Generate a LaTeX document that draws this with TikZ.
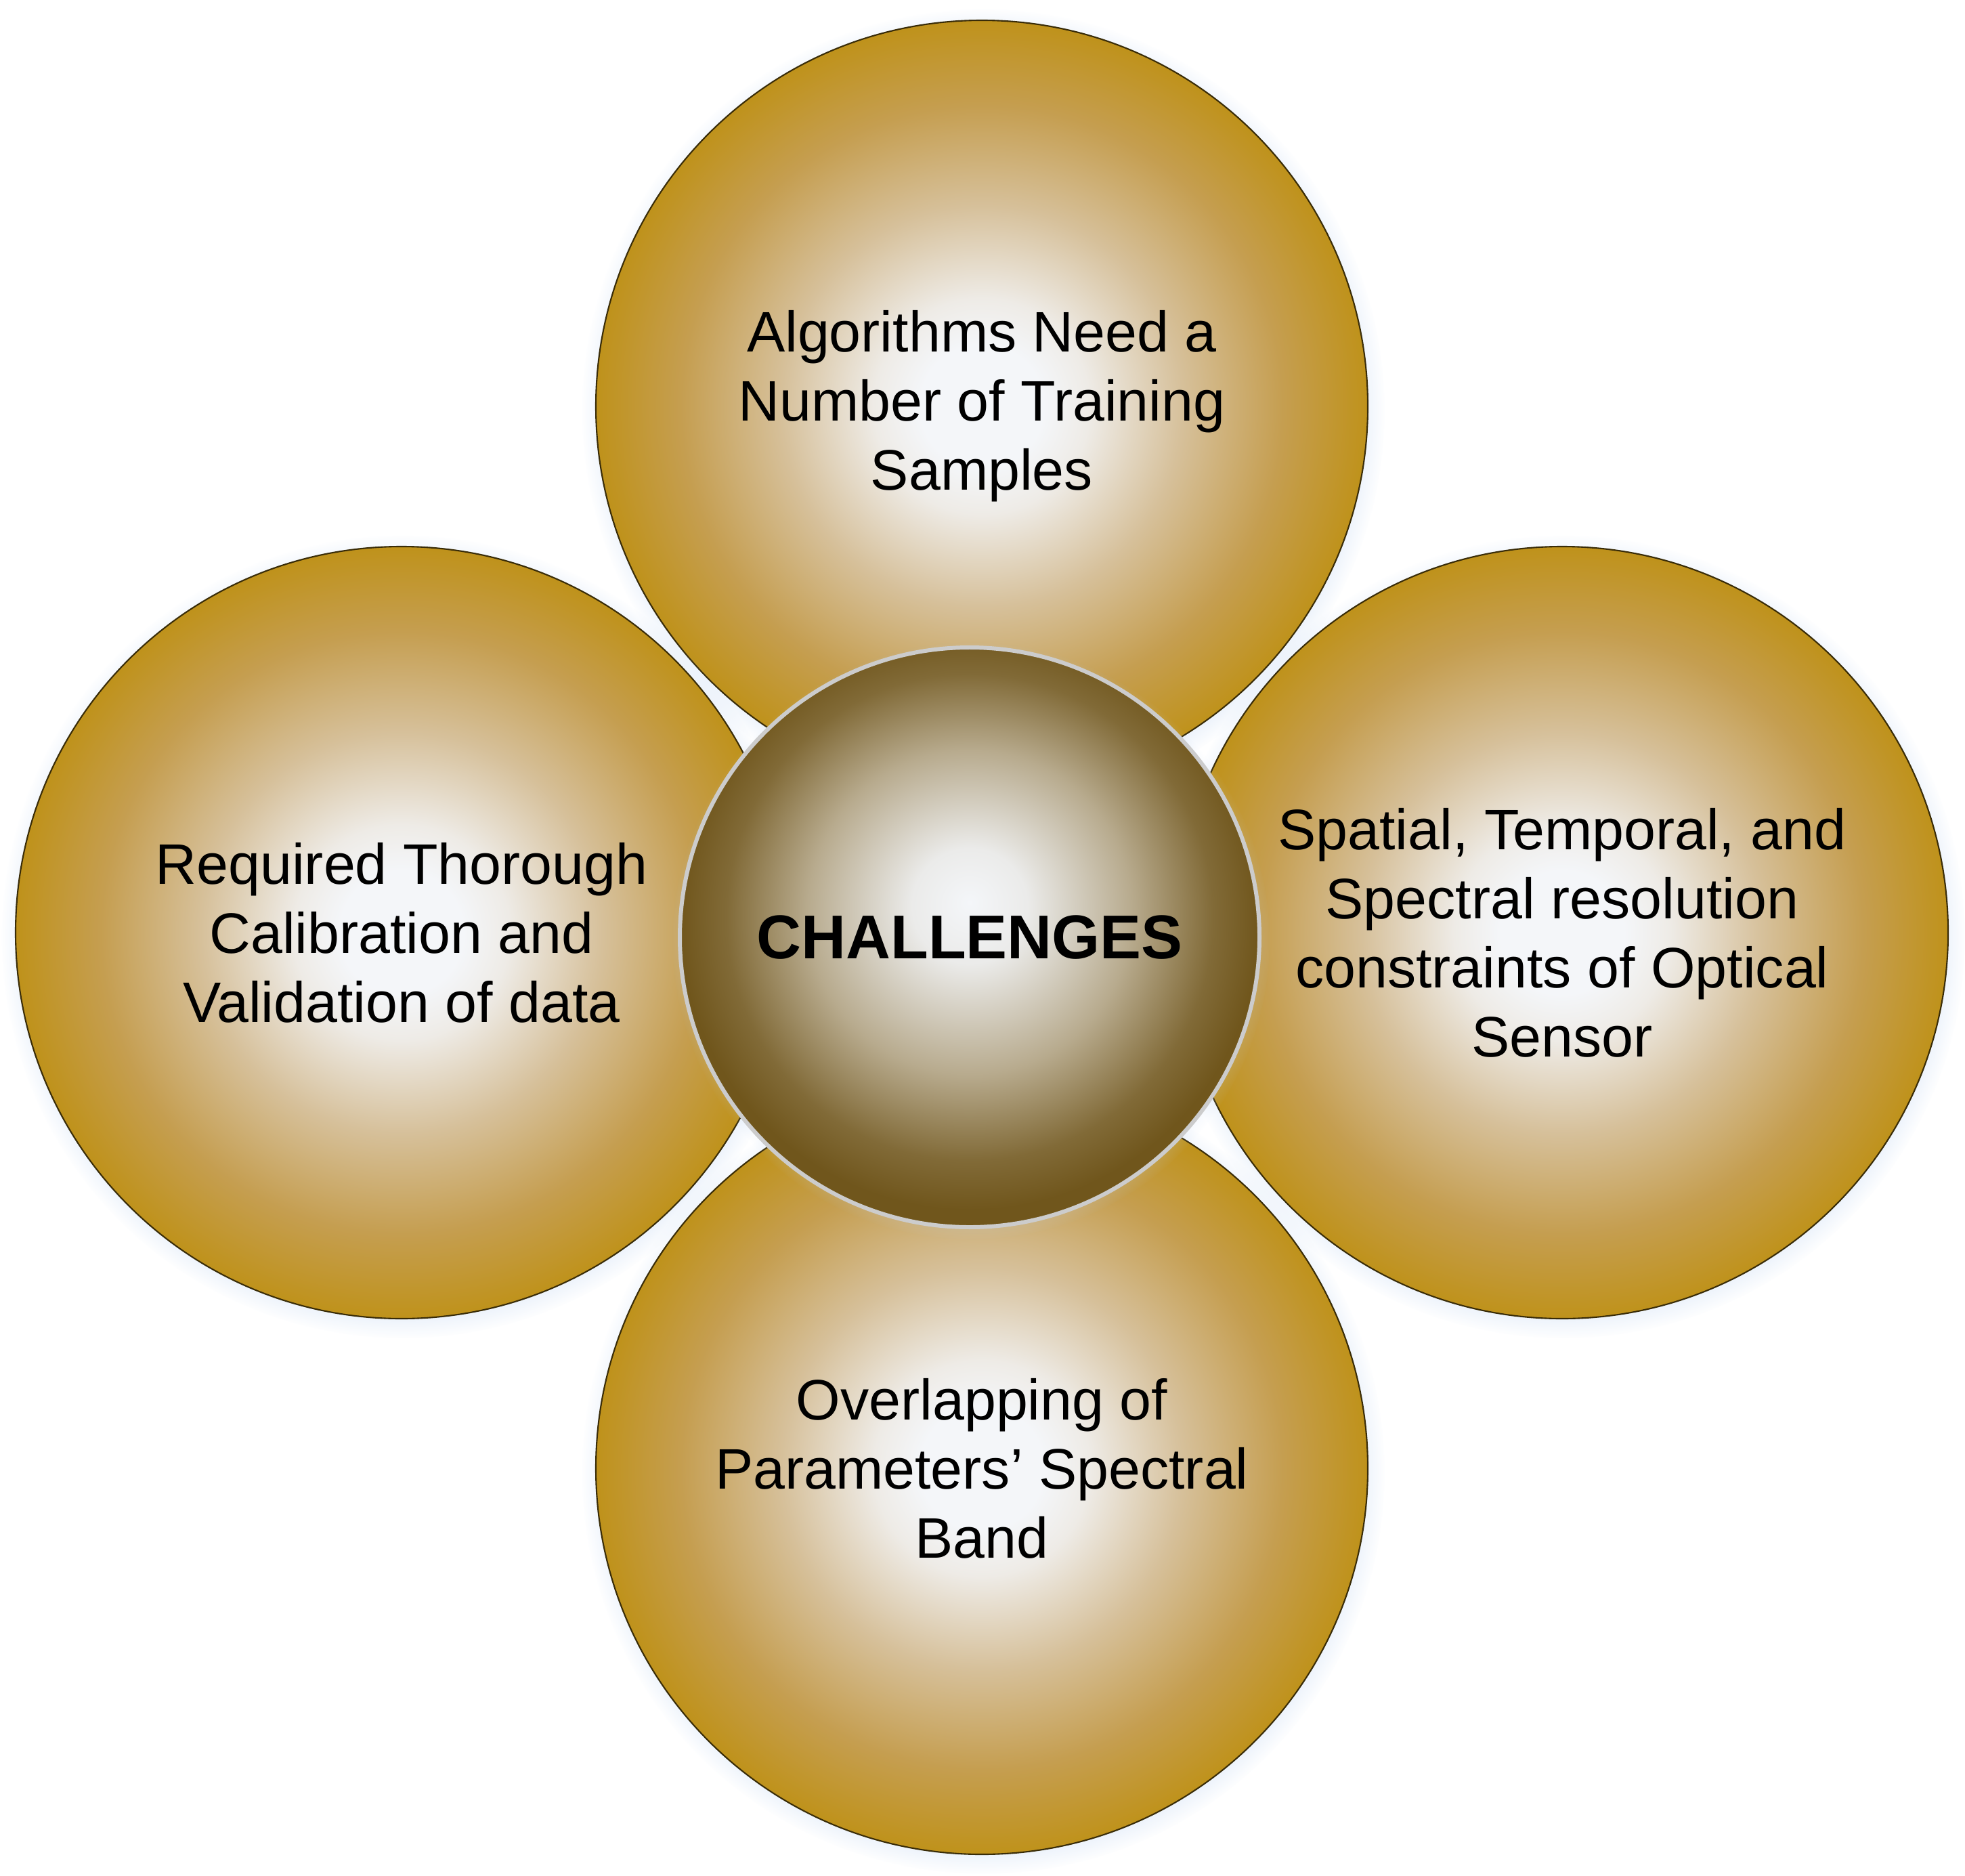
\documentclass[tikz,border=0pt]{standalone}
\usepackage{fontspec}
\setmainfont{Liberation Sans}
\usetikzlibrary{shadows}
\definecolor{goldrim}{RGB}{191,146,27}
\definecolor{goldmid}{RGB}{197,158,80}
\definecolor{tanmid}{RGB}{214,192,154}
\definecolor{creamy}{RGB}{238,235,230}
\definecolor{coolwhite}{RGB}{244,246,249}
\definecolor{brownrim}{RGB}{112,86,28}
\definecolor{halo}{RGB}{170,198,236}
\pgfdeclareradialshading{goldglow}{\pgfpoint{0bp}{0bp}}{color(0bp)=(coolwhite); color(4bp)=(coolwhite); color(7bp)=(creamy); color(13bp)=(tanmid); color(19.5bp)=(goldmid); color(25bp)=(goldrim); color(50bp)=(goldrim)}
\pgfdeclareradialshading{hubglow}{\pgfpoint{0bp}{3bp}}{color(0bp)=(coolwhite); color(5bp)=(coolwhite!93!brownrim); color(14bp)=(brownrim!50!white); color(21bp)=(brownrim!88!white); color(25bp)=(brownrim); color(50bp)=(brownrim)}
\begin{document}
\begin{tikzpicture}[
    petal/.style={circle, minimum size=11.4cm, inner sep=0pt, align=center,
      draw=black!70!goldrim, line width=0.6pt, shading=goldglow,
      circular drop shadow={shadow xshift=0.02cm, shadow yshift=-0.06cm, shadow scale=1.04, fill=halo, opacity=0.6},
      font=\fontsize{24}{29}\selectfont},
    hub/.style={circle, minimum size=8.56cm, inner sep=0pt, align=center,
      draw=black!20, line width=1.7pt, shading=hubglow,
      circular drop shadow={shadow xshift=0.02cm, shadow yshift=-0.05cm, shadow scale=1.03, fill=halo!70, opacity=0.5},
      font=\bfseries\fontsize{26}{31}\selectfont}]
  \useasboundingbox (0,0) rectangle (29.02,-27.69);
  \node[petal] (algo) at (14.50,-6.00) {Algorithms Need a\\Number of Training\\Samples};
  \node[petal] (calib) at (5.93,-13.77) {Required Thorough\\Calibration and\\Validation of data};
  \node[petal] (spatial) at (23.07,-13.77) {Spatial, Temporal, and\\Spectral resolution\\constraints of Optical\\Sensor};
  \node[petal] (overlap) at (14.50,-21.68) {Overlapping of\\Parameters’ Spectral\\Band};
  \node[hub] (chall) at (14.32,-13.84) {CHALLENGES};
\end{tikzpicture}
\end{document}
